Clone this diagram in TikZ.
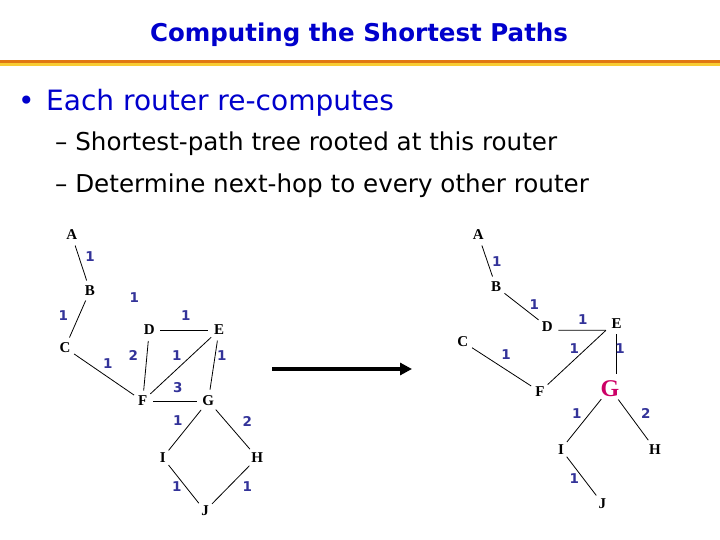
\documentclass[tikz,border=0pt]{standalone}
\usepackage{fontspec}
\setmainfont{Liberation Serif}
\newfontfamily\slidesans{DejaVu Sans}
\usetikzlibrary{arrows.meta}
\definecolor{titleBlue}{HTML}{0000CC}
\definecolor{ruleOrange}{HTML}{E07812}
\definecolor{ruleYellow}{HTML}{F8CC33}
\definecolor{weightBlue}{HTML}{333399}
\definecolor{rootRed}{HTML}{CC0066}

\begin{document}
\begin{tikzpicture}[x=1pt,y=-1pt,
  router/.style={circle,inner sep=2.5pt,font=\bfseries\fontsize{15}{15}\selectfont},
  weight/.style={font=\slidesans\bfseries\fontsize{13.5}{13.5}\selectfont,text=weightBlue},
  link/.style={line width=0.8pt}]
  \useasboundingbox (0,0) rectangle (720,540);

  % Title and rule
  \node[anchor=base,font=\slidesans\bfseries\fontsize{24.5}{24.5}\selectfont,text=titleBlue] (title) at (359,42) {Computing the Shortest Paths};
  \fill[ruleOrange] (0,60) rectangle (720,63.3);
  \fill[ruleYellow] (0,63.3) rectangle (720,66);

  % Bullets
  \node[anchor=base west,font=\slidesans\fontsize{28}{28}\selectfont,text=titleBlue,inner sep=0pt] (bul) at (18,111) {•};
  \node[anchor=base west,font=\slidesans\fontsize{28}{28}\selectfont,text=titleBlue,inner sep=0pt] (main) at (46,111) {Each router re-computes};
  \node[anchor=base west,font=\slidesans\fontsize{24.6}{24.6}\selectfont,inner sep=0pt] (subone) at (55,151) {– Shortest-path tree rooted at this router};
  \node[anchor=base west,font=\slidesans\fontsize{24.6}{24.6}\selectfont,inner sep=0pt] (subtwo) at (55,193) {– Determine next-hop to every other router};

  % Full graph
  \node[router] (lA) at (71.7,235) {A};
  \node[router] (lB) at (90,290.7) {B};
  \node[router] (lC) at (65,347.7) {C};
  \node[router] (lD) at (149.3,330) {D};
  \node[router] (lE) at (219,330) {E};
  \node[router] (lF) at (142.7,401) {F};
  \node[router] (lG) at (208.3,401) {G};
  \node[router] (lI) at (162.7,457.7) {I};
  \node[router] (lH) at (257.3,457.7) {H};
  \node[router] (lJ) at (205,511) {J};

  \draw[link] (lA) -- (lB);
  \draw[link] (lB) -- (lC);
  \draw[link] (lC) -- (lF);
  \draw[link] (lD) -- (lE);
  \draw[link] (lD) -- (lF);
  \draw[link] (lE) -- (lF);
  \draw[link] (lE) -- (lG);
  \draw[link] (lF) -- (lG);
  \draw[link] (lG) -- (lI);
  \draw[link] (lG) -- (lH);
  \draw[link] (lI) -- (lJ);
  \draw[link] (lH) -- (lJ);

  \node[weight] (wAB) at (90,257) {1};
  \node[weight] (wBD) at (134.3,297.7) {1};
  \node[weight] (wBC) at (63.3,315.7) {1};
  \node[weight] (wDE) at (185.7,315.7) {1};
  \node[weight] (wDF) at (133.3,355.7) {2};
  \node[weight] (wEF) at (176.7,355.7) {1};
  \node[weight] (wEG) at (221.7,355.7) {1};
  \node[weight] (wCF) at (107.7,363.3) {1};
  \node[weight] (wFG) at (177.7,387.7) {3};
  \node[weight] (wGI) at (177.7,421) {1};
  \node[weight] (wGH) at (247.3,421) {2};
  \node[weight] (wIJ) at (176.7,486.7) {1};
  \node[weight] (wHJ) at (247.3,486.7) {1};

  % Arrow
  \coordinate (arrS) at (272,369);
  \coordinate (arrE) at (412,369);
  \draw[line width=4pt,-{Triangle[length=12pt,width=12pt]}] (arrS) -- (arrE);

  % Tree rooted at G
  \node[router] (rA) at (478.3,235) {A};
  \node[router] (rB) at (496,286.7) {B};
  \node[router] (rD) at (547.3,326.7) {D};
  \node[router] (rE) at (616.7,323.3) {E};
  \node[router] (rC) at (462.7,341.7) {C};
  \node[router] (rF) at (540,391.7) {F};
  \node[router,font=\bfseries\fontsize{24}{24}\selectfont,text=rootRed,inner sep=1pt] (rG) at (610,388.3) {G};
  \node[router] (rI) at (561,449.3) {I};
  \node[router] (rH) at (655,449.3) {H};
  \node[router] (rJ) at (602.3,503.3) {J};

  \draw[link] (rA) -- (rB);
  \draw[link] (rB) -- (rD);
  \draw[link] ([yshift=-3.5pt]rD.east) -- ([yshift=-7pt]rE.west);
  \draw[link] ([yshift=-7pt]rE.west) -- (rF);
  \draw[link] (rE.south) -- (rE.south |- rG.north);
  \draw[link] (rC) -- (rF);
  \draw[link] (rG) -- (rI);
  \draw[link] (rG) -- (rH);
  \draw[link] (rI) -- (rJ);

  \node[weight] (vAB) at (496.7,261.7) {1};
  \node[weight] (vBD) at (534.3,305) {1};
  \node[weight] (vDE) at (582.7,319.3) {1};
  \node[weight] (vCF) at (506,355) {1};
  \node[weight] (vEF) at (574.3,348.3) {1};
  \node[weight] (vEG) at (620,348.3) {1};
  \node[weight] (vGI) at (576.7,413.3) {1};
  \node[weight] (vGH) at (645.7,413.3) {2};
  \node[weight] (vIJ) at (574.3,478.3) {1};
\end{tikzpicture}
\end{document}
